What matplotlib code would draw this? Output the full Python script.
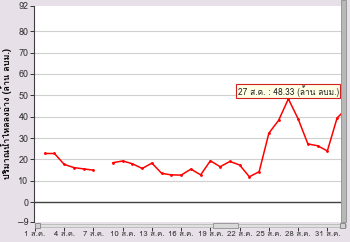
import numpy as np
import matplotlib
matplotlib.use("Agg")
import matplotlib.pyplot as plt
from matplotlib import font_manager, ft2font
from matplotlib.patches import Rectangle

# find a font with Thai glyphs, if any
thai_font = None
for f in font_manager.fontManager.ttflist:
    try:
        ft = ft2font.FT2Font(f.fname)
        if ft.get_char_index(ord("ก")):
            thai_font = f.name
            break
    except Exception:
        pass
fams = ([thai_font] if thai_font else []) + ["DejaVu Sans"]
plt.rcParams["font.family"] = fams

days = list(range(1, 34))
inflow = [np.nan, 22.8, 22.8, 17.7, 16.2, 15.6, 15.0, np.nan,
          18.5, 19.3, 18.0, 15.8, 18.3, 13.5, 12.8, 12.7, 15.5, 12.8,
          19.4, 16.6, 19.1, 17.4, 11.9, 14.3, 32.3, 38.3, 48.33, 39.0,
          27.3, 26.4, 24.0, 39.4, 44.0]
tick_days = [1, 4, 7, 10, 13, 16, 19, 22, 25, 28, 31]
tick_labels = ["%d ส.ค." % d for d in tick_days]
yticks = [-9, 0, 10, 20, 30, 40, 50, 60, 70, 80, 92]
peak_day = 27
peak_val = 48.33
ylabel = "ปริมาณน้ำไหลลงอ่าง (ล้าน ลบม.)"

bg = "#E8E0E8"
W, H = 350, 242
fig = plt.figure(figsize=(3.5, 2.42), dpi=100, facecolor=bg)
ax = fig.add_axes([34 / W, 1 - 221.5 / H, 307 / W, 216 / H])
ax.set_facecolor("white")

ax.plot(days, inflow, color="#FF0000", lw=1.1, marker="o", ms=1.0)
ax.set_xlim(0.9, 32.4)
ax.set_ylim(-9, 92)

ax.set_yticks(yticks)
for v in range(10, 90, 10):
    ax.axhline(v, color="#D0D0D0", lw=0.8, zorder=0)
ax.axhline(0, color="#404040", lw=1.0, zorder=1)

ax.set_xticks(tick_days)
ax.set_xticklabels(tick_labels)
ax.tick_params(axis="y", length=3, width=0.7, pad=1, labelsize=6.5,
               labelcolor="#333333", color="#333333")
ax.tick_params(axis="x", length=0, pad=6.5, labelsize=5.6,
               labelcolor="#333333")
for s in ["top", "right", "bottom"]:
    ax.spines[s].set_visible(False)
ax.spines["left"].set_color("#404040")
ax.spines["left"].set_linewidth(0.8)

ax.set_ylabel(ylabel, fontsize=6.5, fontweight="bold", labelpad=3)

ax.annotate("%d ส.ค. : %.2f (ล้าน ลบม.)" % (peak_day, peak_val),
            xy=(peak_day, peak_val), xytext=(0, 1.5), textcoords="offset points",
            ha="center", va="bottom", fontsize=6.0, color="#222222",
            bbox=dict(boxstyle="square,pad=0.15", fc="#FFFFE6", ec="#D02020", lw=0.8))

# small tick marks under the scrollbar
ax.plot(tick_days, [-0.035] * len(tick_days), transform=ax.get_xaxis_transform(),
        ls="none", marker="|", ms=2.5, mew=0.7, color="#333333", clip_on=False)

# scrollbars
def px_rect(x0, y0, w, h, **kw):
    fig.patches.append(Rectangle((x0 / W, 1 - (y0 + h) / H), w / W, h / H,
                                 transform=fig.transFigure, figure=fig, **kw))

px_rect(341, 0, 5, 222, fc="#B8B8B8", ec="#909090", lw=0.6)
px_rect(35, 224, 311, 3, fc="#E0E0E0", ec="#B0B0B0", lw=0.5)
px_rect(213, 223, 25, 5, fc="#D8D8D8", ec="#909090", lw=0.6)
px_rect(35, 222.5, 5, 5, fc="#D0D0D0", ec="#808080", lw=0.6)
px_rect(340, 222.5, 5, 5, fc="#D0D0D0", ec="#808080", lw=0.6)

fig.savefig("out.png", dpi=100, facecolor=bg)
